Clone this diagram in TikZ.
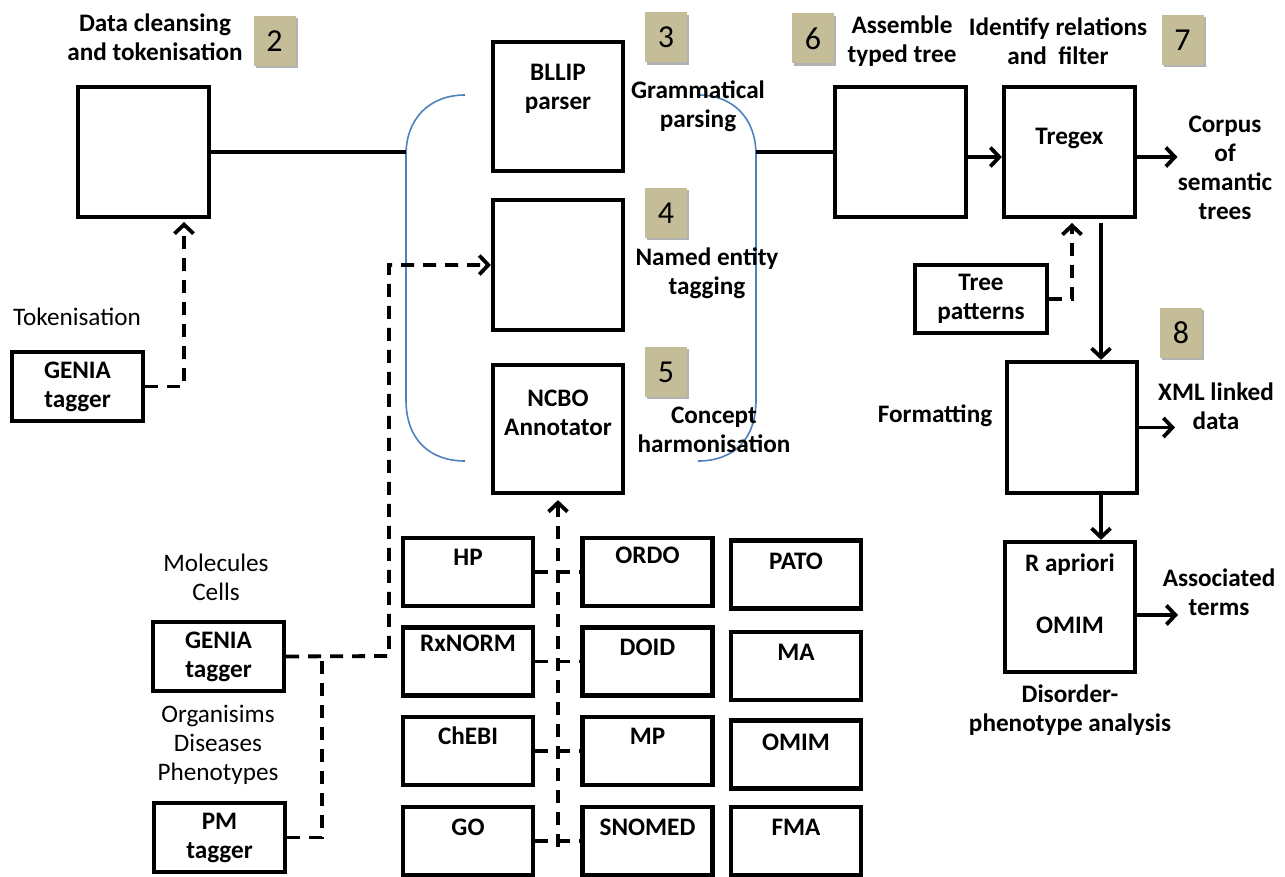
\documentclass[tikz,border=0pt]{standalone}
\usepackage{fontspec}
\setmainfont{Carlito}
\usetikzlibrary{arrows.meta,shadows,calc}
\definecolor{badgetan}{RGB}{196,189,151}
\definecolor{brblue}{RGB}{79,129,189}
\begin{document}
\begin{tikzpicture}[x=0.5pt,y=-0.5pt,
  every node/.style={inner sep=0pt},
  sz/.style 2 args={minimum width=#1*0.5pt, minimum height=#2*0.5pt},
  box/.style={draw, line width=2.1pt, fill=white, align=center,
    font=\fontsize{12.6}{14.5}\selectfont\bfseries,
    drop shadow={shadow xshift=1.2pt, shadow yshift=-1.2pt, opacity=0.25, fill=black}},
  txt/.style={align=center, font=\fontsize{12.6}{14.5}\selectfont},
  txtb/.style={align=center, font=\fontsize{12.6}{14.5}\selectfont\bfseries},
  badge/.style={fill=badgetan, minimum width=21pt, minimum height=25pt,
    font=\fontsize{16}{18}\selectfont,
    drop shadow={shadow xshift=1.2pt, shadow yshift=-1.2pt, opacity=0.3, fill=black}},
  conn/.style={line width=1.9pt},
  arr/.style={line width=1.9pt, -{Straight Barb[length=4.5pt,width=9.5pt]}},
  dline/.style={line width=1.9pt, dash pattern=on 6.5pt off 4.5pt},
  darr/.style={dline, -{Straight Barb[length=4.5pt,width=9.5pt]}},
  brk/.style={brblue, line width=0.8pt}]
\useasboundingbox (0,0) rectangle (1285,877);

% brackets
\draw[brk] (465,95) .. controls (430,95) and (406,118) .. (406,155) -- (406,400) .. controls (406,440) and (430,461) .. (465,461);
\draw[brk] (698,95) .. controls (733,95) and (756,118) .. (756,155) -- (756,400) .. controls (756,440) and (733,461) .. (698,461);

% main boxes
\node[box, sz={131}{130}] (b1) at (143.5,152) {};
\node[box, sz={130}{129}] (bllip) at (558,106.5) {};
\node[txtb] (bllipT) at (558,89) {BLLIP\\parser};
\node[box, sz={130}{130}] (ner) at (558,265) {};
\node[box, sz={130}{128}] (ncbo) at (558,429) {};
\node[txtb] (ncboT) at (558,413) {NCBO\\Annotator};
\node[box, sz={131}{130}] (b6) at (900.5,152) {};
\node[box, sz={131}{130}] (tregex) at (1069.5,152) {};
\node[txtb] (tregexT) at (1069.5,138) {Tregex};
\node[box, sz={132}{68}] (treepat) at (981,299) {Tree\\patterns};
\node[box, sz={130}{131}] (fmt) at (1072,427.5) {};
\node[box, sz={130}{130}] (rap) at (1070,607) {};
\node[txtb] (rapT1) at (1070,565) {R apriori};
\node[txtb] (rapT2) at (1070,625) {OMIM};
\node[box, sz={131}{69}] (genia1) at (77.5,386.5) {GENIA\\tagger};
\node[box, sz={131}{69}] (genia2) at (218.5,656.5) {GENIA\\tagger};
\node[box, sz={131}{69}] (pm) at (219.5,837.5) {PM\\tagger};

% ontology grid
\foreach \n/\t/\x/\y/\ty in {hp/HP/468/572/557, rx/RxNORM/468/661.5/643, ch/ChEBI/468/751/736, go/GO/468/841/827,
  ordo/ORDO/647.5/572/555, doid/DOID/647.5/661.5/647, mp/MP/647.5/751/736, sno/SNOMED/647.5/841/827,
  pato/PATO/796/574.5/561, ma/MA/796/666/652, omim/OMIM/796/754.5/742, fma/FMA/796/841/827}{
  \node[box, sz={130}{68}] (\n) at (\x,\y) {};
  \node[txtb] (\n-t) at (\x,\ty) {\t};
}

% badges
\node[badge] (bd2) at (274.5,41) {2};
\node[badge] (bd3) at (666,37.5) {3};
\node[badge] (bd4) at (666,213) {4};
\node[badge] (bd5) at (666,372) {5};
\node[badge] (bd6) at (813,38.5) {6};
\node[badge] (bd7) at (1182.5,40) {7};
\node[badge] (bd8) at (1181,333) {8};

% labels
\node[txtb] (l2) at (155,37) {Data cleansing\\and tokenisation};
\node[txtb] (l3) at (698,106) {Grammatical\\parsing};
\node[txtb] (l4) at (707,273) {Named entity\\tagging};
\node[txtb] (l5) at (714,430) {Concept\\harmonisation};
\node[txtb] (l6) at (902,41) {Assemble\\typed tree};
\node[txtb] (l7) at (1058,41) {Identify relations\\and\ \ filter};
\node[txtb] (corpus) at (1225,168) {Corpus\\of\\semantic\\trees};
\node[txtb] (lfmt) at (935,416) {Formatting};
\node[txtb] (xml) at (1216,406) {XML linked\\data};
\node[txtb] (assoc) at (1219,592) {Associated\\terms};
\node[txtb] (ldis) at (1070,710) {Disorder-\\phenotype analysis};
\node[txt] (ltok) at (77,317) {Tokenisation};
\node[txt] (lmol) at (216,577) {Molecules\\Cells};
\node[txt] (lorg) at (218,745) {Organisims\\Diseases\\Phenotypes};

% coordinates
\coordinate (lbr) at (406,152);
\coordinate (rbr) at (756,152);
\coordinate (t1) at (184,222);
\coordinate (nj1) at (389,656);
\coordinate (pj) at (322,656);
\coordinate (vb) at (558,847);
\coordinate (tp1) at (1072,223);
\coordinate (a1) at (1101,223);
\coordinate (trE) at ([yshift=-2.5pt]tregex.east);
\coordinate (xa) at (1175,427.5);
\coordinate (aa) at (1178,615);

% connectors
\draw[conn] (b1.east) -- (lbr);
\draw[conn] (rbr) -- (b6.west);
\draw[arr] ([yshift=-2.5pt]b6.east) -- ([yshift=-2.5pt]tregex.west);
\draw[arr] (trE) -- (trE -| corpus.west);
\draw[darr] (treepat.east) -| (tp1);
\draw[arr] (a1) -- (fmt.north -| a1);
\draw[arr] (fmt.south -| a1) -- (rap.north -| a1);
\draw[arr] (fmt.east) -- (xa);
\draw[arr] (rap.east |- aa) -- (aa);
\draw[darr] (genia1.east) -| (t1);
\draw[darr] (genia2.east) -- (nj1) |- (ner.west);
\draw[dline] (pm.east) -| (pj);
\draw[dline] (hp.east) -- (ordo.west);
\draw[dline] (rx.east) -- (doid.west);
\draw[dline] (ch.east) -- (mp.west);
\draw[dline] (go.east) -- (sno.west);
\draw[darr] (vb) -- ([yshift=-2.5pt]ncbo.south);
\end{tikzpicture}
\end{document}
